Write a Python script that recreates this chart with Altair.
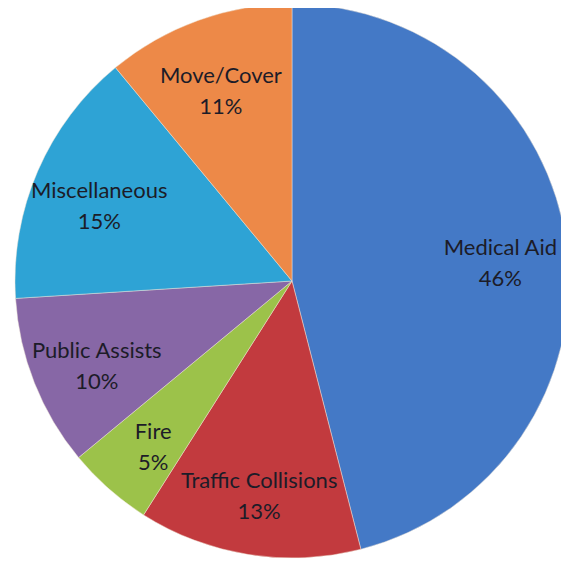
import altair as alt
import pandas as pd

categories = ["Medical Aid", "Traffic Collisions", "Fire", "Public Assists", "Miscellaneous", "Move/Cover"]
percents = [46, 13, 5, 10, 15, 11]
colors = ["#4479c6", "#c23a3e", "#9cc24a", "#8767a6", "#2ea3d5", "#ed8948"]

df = pd.DataFrame({"category": categories, "pct": percents, "order": list(range(len(categories)))})

cx, cy, R = 284, 273, 277

base = alt.Chart(df).encode(
    theta=alt.Theta("pct:Q", stack=True),
    order=alt.Order("order:Q"),
)

pie = base.mark_arc(radius=R, stroke="#f0e6d8", strokeWidth=0.8, strokeOpacity=0.6).encode(
    x=alt.value(cx),
    y=alt.value(cy),
    color=alt.Color("category:N", scale=alt.Scale(domain=categories, range=colors), legend=None),
)

labels = base.transform_calculate(
    label="datum.category + '\\n' + datum.pct + '%'"
).mark_text(
    radius=210, font="Lato", fontSize=22, lineBreak="\n", lineHeight=31,
    color="#1c1c28", align="center", baseline="middle"
).encode(
    x=alt.value(cx),
    y=alt.value(cy - 7),
    text="label:N",
)

chart = alt.layer(pie, labels).properties(
    width=553, height=553, padding=0, background="white",
    autosize=alt.AutoSizeParams(type="none"),
).configure_view(stroke=None, strokeWidth=0)

chart.save("out.html", embed_options={"renderer": "svg", "actions": False})
